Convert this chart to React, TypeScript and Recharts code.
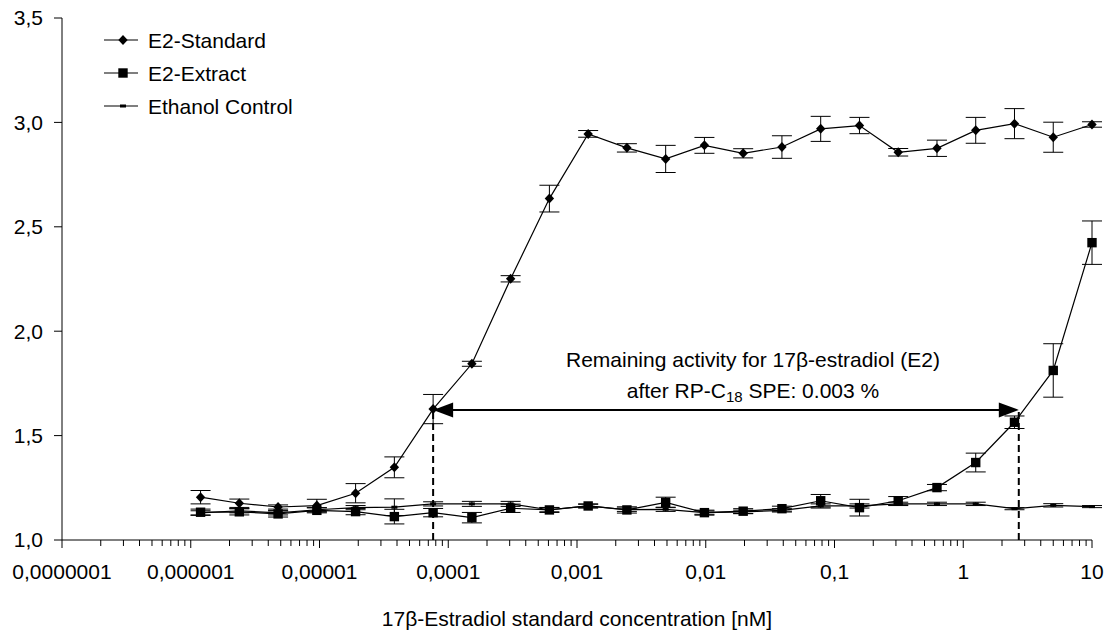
import React from "react";
import {
  ComposedChart,
  Line,
  XAxis,
  YAxis,
  ErrorBar,
  ReferenceLine,
  Legend,
} from "recharts";

// two-fold dilution series, nM
const conc = [
  1.192e-6, 2.384e-6, 4.768e-6, 9.537e-6, 1.907e-5, 3.815e-5, 7.629e-5, 1.526e-4,
  3.052e-4, 6.104e-4, 1.221e-3, 2.441e-3, 4.883e-3, 9.766e-3, 1.953e-2, 3.906e-2,
  7.813e-2, 0.1563, 0.3125, 0.625, 1.25, 2.5, 5, 10,
];

const stdMean = [
  1.205, 1.176, 1.158, 1.165, 1.224, 1.348, 1.627, 1.844, 2.251, 2.635, 2.945, 2.878,
  2.825, 2.89, 2.852, 2.882, 2.969, 2.985, 2.857, 2.876, 2.962, 2.994, 2.929, 2.99,
];
const stdErr = [
  0.032, 0.02, 0.01, 0.03, 0.046, 0.05, 0.07, 0.012, 0.015, 0.064, 0.016, 0.02,
  0.065, 0.038, 0.022, 0.054, 0.06, 0.039, 0.018, 0.039, 0.062, 0.072, 0.072, 0.013,
];

const extMean = [
  1.133, 1.135, 1.125, 1.142, 1.136, 1.112, 1.131, 1.107, 1.152, 1.144, 1.163, 1.144,
  1.18, 1.131, 1.138, 1.15, 1.188, 1.155, 1.188, 1.251, 1.371, 1.564, 1.812, 2.424,
];
const extErr = [
  0.015, 0.015, 0.015, 0.012, 0.015, 0.035, 0.02, 0.025, 0.02, 0.012, 0.01, 0.015,
  0.025, 0.012, 0.012, 0.012, 0.03, 0.04, 0.02, 0.015, 0.045, 0.03, 0.128, 0.104,
];

const ethMean = [
  1.13, 1.14, 1.13, 1.145, 1.155, 1.157, 1.173, 1.173, 1.173, 1.145, 1.163, 1.145,
  1.147, 1.131, 1.135, 1.142, 1.163, 1.163, 1.173, 1.173, 1.173, 1.15, 1.166, 1.16,
];
const ethErr = [
  0.01, 0.01, 0.01, 0.01, 0.01, 0.04, 0.01, 0.012, 0.012, 0.01, 0.008, 0.008,
  0.01, 0.008, 0.008, 0.008, 0.01, 0.01, 0.008, 0.008, 0.008, 0.005, 0.008, 0.005,
];

const majorTicks = [1e-7, 1e-6, 1e-5, 1e-4, 1e-3, 1e-2, 1e-1, 1, 10];
const majorLabels = [
  "0,0000001", "0,000001", "0,00001", "0,0001", "0,001", "0,01", "0,1", "1", "10",
];
const yTicks = [1, 1.5, 2, 2.5, 3, 3.5];

// annotation: E2-Standard at 7.63e-5 nM vs E2-Extract at 2.7 nM
const arrowY = 1.623;
const arrowFrom = 7.63e-5;
const arrowTo = 2.7;

const FONT = "'Liberation Sans', Arial, sans-serif";
const FS = 21;

const rows = conc.map((x, i) => ({
  x,
  std: stdMean[i],
  stdErr: stdErr[i],
  ext: extMean[i],
  extErr: extErr[i],
  eth: ethMean[i],
  ethErr: ethErr[i],
}));

const minorTicks: number[] = [];
for (let e = -7; e < 1; e++) {
  for (let m = 2; m <= 9; m++) minorTicks.push(m * Math.pow(10, e));
}
const allTicks = [...majorTicks, ...minorTicks];

const diamond = (cx: number, cy: number, k?: string) => (
  <path key={k} d={`M${cx},${cy - 5}L${cx + 4.7},${cy}L${cx},${cy + 5}L${cx - 4.7},${cy}Z`} fill="#000" />
);
const square = (cx: number, cy: number, k?: string) => (
  <rect key={k} x={cx - 4.7} y={cy - 4.7} width={9.4} height={9.4} fill="#000" />
);
const dash = (cx: number, cy: number, k?: string) => (
  <rect key={k} x={cx - 3} y={cy - 1.5} width={6} height={3} fill="#000" />
);

const XTick = (props: any) => {
  const { x, y, payload } = props;
  const idx = majorTicks.indexOf(payload.value);
  const y0 = y - 24;
  return (
    <g>
      <line x1={x} x2={x} y1={y0} y2={y0 + (idx >= 0 ? 8 : 6)} stroke="#000" />
      {idx >= 0 && (
        <text x={x} y={y} dy="0.71em" textAnchor="middle" fontSize={FS} fill="#000" fontFamily={FONT}>
          {majorLabels[idx]}
        </text>
      )}
    </g>
  );
};

const ArrowShape = (p: any) => {
  const { x1, y1, x2 } = p;
  const mid = (x1 + x2) / 2 + 27;
  return (
    <g>
      <line x1={x1 + 15} x2={x2 - 15} y1={y1} y2={y1} stroke="#000" strokeWidth={2} />
      <polygon points={`${x1},${y1} ${x1 + 20},${y1 - 7.5} ${x1 + 20},${y1 + 7.5}`} fill="#000" />
      <polygon points={`${x2},${y1} ${x2 - 20},${y1 - 7.5} ${x2 - 20},${y1 + 7.5}`} fill="#000" />
      <text x={mid} y={y1 - 43} textAnchor="middle" fontSize={FS} fill="#000" fontFamily={FONT}>
        Remaining activity for 17β-estradiol (E2)
      </text>
      <text x={mid} y={y1 - 12} textAnchor="middle" fontSize={FS} fill="#000" fontFamily={FONT}>
        after RP-C<tspan fontSize={15} dy={4}>18</tspan>
        <tspan dy={-4}> SPE: 0.003 %</tspan>
      </text>
    </g>
  );
};

const legendItems = [
  { name: "E2-Standard", mark: diamond },
  { name: "E2-Extract", mark: square },
  { name: "Ethanol Control", mark: dash },
];

const LegendBox = () => (
  <svg width={260} height={100} style={{ display: "block" }}>
    {legendItems.map((it, i) => {
      const cy = 12 + i * 33;
      return (
        <g key={it.name}>
          <line x1={0} x2={34} y1={cy} y2={cy} stroke="#000" strokeWidth={1.2} />
          {it.mark(19, cy)}
          <text x={44} y={cy} dy="0.36em" fontSize={FS} fill="#000" fontFamily={FONT}>
            {it.name}
          </text>
        </g>
      );
    })}
  </svg>
);

export default function App() {
  return (
    <div style={{ position: "absolute", left: 0, top: 0, width: 1111, height: 633, background: "#fff", fontFamily: FONT }}>
      <ComposedChart width={1111} height={633} data={rows} margin={{ top: 18, right: 19, left: 0, bottom: 0 }}>
        <XAxis
          dataKey="x"
          type="number"
          scale="log"
          domain={[1e-7, 10]}
          ticks={allTicks}
          interval={0}
          tick={<XTick />}
          tickLine={false}
          tickSize={8}
          tickMargin={16}
          axisLine={{ stroke: "#000" }}
          height={93}
          label={{
            value: "17β-Estradiol standard concentration [nM]",
            position: "insideBottom",
            offset: 7,
            fontSize: FS,
            fill: "#000",
            fontFamily: FONT,
          }}
        />
        <YAxis
          type="number"
          domain={[1, 3.5]}
          ticks={yTicks}
          width={62}
          tickSize={8}
          tickMargin={11}
          tickFormatter={(v: number) => v.toFixed(1).replace(".", ",")}
          tick={{ fontSize: FS, fill: "#000", fontFamily: FONT }}
          tickLine={{ stroke: "#000" }}
          axisLine={{ stroke: "#000" }}
        />
        <Legend
          layout="vertical"
          align="center"
          verticalAlign="middle"
          content={<LegendBox />}
          wrapperStyle={{ left: 104, top: 28, width: 260, height: 100 }}
        />
        <ReferenceLine
          segment={[{ x: arrowFrom, y: 1 }, { x: arrowFrom, y: arrowY }]}
          stroke="#000"
          strokeWidth={2}
          strokeDasharray="7 4"
        />
        <ReferenceLine
          segment={[{ x: arrowTo, y: 1 }, { x: arrowTo, y: arrowY }]}
          stroke="#000"
          strokeWidth={2}
          strokeDasharray="7 4"
        />
        <Line
          dataKey="eth"
          stroke="#000"
          strokeWidth={1.2}
          isAnimationActive={false}
          dot={(p: any) => dash(p.cx, p.cy, `e${p.index}`)}
          activeDot={false}
        >
          <ErrorBar dataKey="ethErr" width={10} stroke="#000" strokeWidth={1} direction="y" />
        </Line>
        <Line
          dataKey="ext"
          stroke="#000"
          strokeWidth={1.2}
          isAnimationActive={false}
          dot={(p: any) => square(p.cx, p.cy, `x${p.index}`)}
          activeDot={false}
        >
          <ErrorBar dataKey="extErr" width={10} stroke="#000" strokeWidth={1} direction="y" />
        </Line>
        <Line
          dataKey="std"
          stroke="#000"
          strokeWidth={1.2}
          isAnimationActive={false}
          dot={(p: any) => diamond(p.cx, p.cy, `s${p.index}`)}
          activeDot={false}
        >
          <ErrorBar dataKey="stdErr" width={10} stroke="#000" strokeWidth={1} direction="y" />
        </Line>
        <ReferenceLine
          segment={[{ x: arrowFrom, y: arrowY }, { x: arrowTo, y: arrowY }]}
          shape={<ArrowShape />}
        />
      </ComposedChart>
    </div>
  );
}
